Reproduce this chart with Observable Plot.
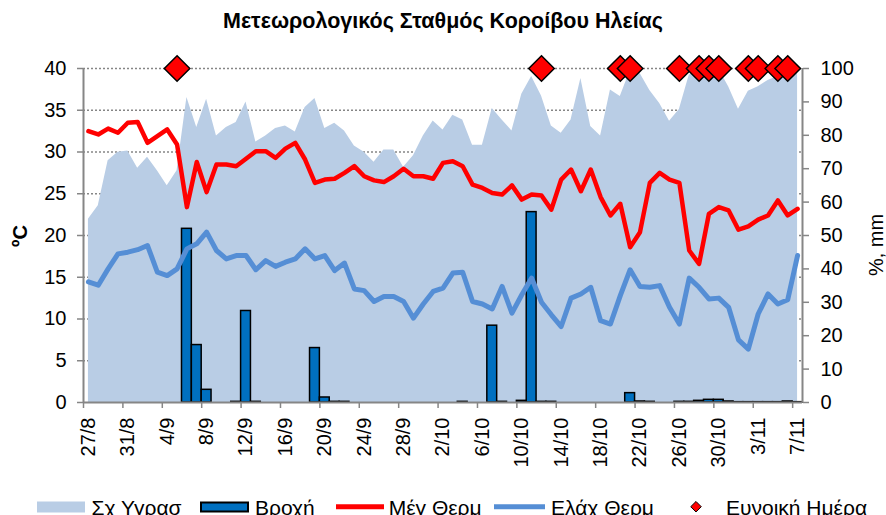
<!DOCTYPE html>
<html><head><meta charset="utf-8">
<script src="https://cdn.jsdelivr.net/npm/d3@7"></script>
<script src="https://cdn.jsdelivr.net/npm/@observablehq/plot@0.6"></script>
<style>
body{margin:0;background:#fff;font-family:"Liberation Sans",Arial,sans-serif;}
#wrap{position:relative;width:886px;height:515px;overflow:hidden;background:#fff;}
#title{position:absolute;left:0;top:9px;width:886px;text-align:center;font-weight:bold;font-size:21.5px;}
#chart{position:absolute;left:0;top:40px;}
.ytitle{position:absolute;font-size:20px;white-space:nowrap;transform:translate(-50%,-50%) rotate(-90deg);}
#legend{position:absolute;left:0;top:490px;}
</style></head><body>
<div id="wrap">
<div id="title">Μετεωρολογικός Σταθμός Κοροίβου Ηλείας</div>
<div id="chart"></div>
<div class="ytitle" style="left:20px;top:236px;font-weight:bold">ºC</div>
<div class="ytitle" style="left:876px;top:245px;">%, mm</div>
<svg id="legend" width="886" height="25"></svg>
</div>
<script>
// Days 27/8 .. 7/11 (73 daily categories)
const firstDay = [2013, 7, 27];
const lastDay = [2013, 10, 7];
const tickLabels = ["27/8","31/8","4/9","8/9","12/9","16/9","20/9","24/9","28/9","2/10","6/10","10/10","14/10","18/10","22/10","26/10","30/10","3/11","7/11"];
const leftTicks = [0,5,10,15,20,25,30,35,40];
const rightTicks = [0,10,20,30,40,50,60,70,80,90,100];

// Σχ Υγρασ (%), right axis
const humidity = [54.9,58.9,72.4,74.9,75.3,70.1,73.4,69.4,64.9,69.4,
  91.3,82.3,90.8,79.8,82.3,83.8,90.0,78.0,79.8,82.0,
  82.8,81.0,88.3,91.0,82.0,83.6,81.3,76.8,74.9,71.9,
  75.6,75.6,70.4,73.9,79.8,84.3,81.6,86.0,84.6,77.0,
  77.0,88.0,84.6,81.3,92.3,97.6,91.8,82.8,80.6,84.6,
  97.0,82.6,79.8,93.6,91.6,99.3,98.6,93.4,89.5,84.2,
  87.7,98.0,99.8,99.8,99.8,94.5,87.8,93.2,94.5,96.4,
  97.6,98.4,99.3];
// Βροχή (mm), right axis
const rain = [0,0,0,0,0,0,0,0,0,0,
  52.0,17.2,3.8,0,0,0.2,27.4,0.2,0,0,
  0,0,0,16.3,1.5,0.2,0.2,0,0,0,
  0,0,0,0,0,0,0,0,0.2,0,
  0,23.0,0.2,0,0.5,57.0,0.2,0.2,0,0,
  0,0,0,0,0,2.8,0.3,0.2,0,0,
  0.2,0.2,0.5,0.8,0.8,0.3,0.1,0.1,0.1,0.1,
  0.1,0.3,0.1];
// Μέγ Θερμ (°C)
const maxTemp = [32.5,32.1,32.8,32.3,33.5,33.6,31.1,31.9,32.7,30.9,
  23.4,28.8,25.2,28.5,28.5,28.3,29.2,30.1,30.1,29.3,
  30.4,31.1,29.1,26.3,26.7,26.8,27.5,28.3,27.1,26.6,
  26.4,27.1,28.0,27.1,27.1,26.8,28.7,28.9,28.3,26.1,
  25.7,25.1,24.9,26.0,24.3,24.9,24.8,23.1,26.7,27.9,
  25.3,27.9,24.6,22.4,23.8,18.6,20.4,26.3,27.5,26.7,
  26.3,18.2,16.6,22.6,23.4,23.0,20.7,21.1,21.9,22.4,
  24.2,22.4,23.2];
// Ελάχ Θερμ (°C)
const minTemp = [14.45,14.05,16.0,17.8,18.0,18.3,18.8,15.6,15.2,16.0,
  18.4,19.0,20.4,18.2,17.2,17.6,17.6,15.9,17.0,16.3,
  16.8,17.2,18.4,17.2,17.6,15.8,16.7,13.6,13.4,12.1,
  12.7,12.7,12.1,10.1,11.8,13.3,13.7,15.5,15.6,12.1,
  11.8,11.2,13.9,10.7,12.9,14.9,12.0,10.5,9.1,12.5,
  13.0,13.8,9.8,9.4,12.8,15.9,13.9,13.8,14.0,11.4,
  9.4,14.9,13.8,12.4,12.5,11.4,7.5,6.4,10.6,13.0,
  11.8,12.3,17.6];
// Ευνοική Ημέρα (drawn at 100 on the right axis)
const favourableDays = ["5/9","12/10","20/10","21/10","26/10","28/10","29/10","30/10","2/11","3/11","5/11","6/11"];
const favourableLevel = 100;

const K = 40 / 100; // right axis (0-100) onto left axis (0-40)
const days = d3.utcDay.range(new Date(Date.UTC(...firstDay)), d3.utcDay.offset(new Date(Date.UTC(...lastDay)), 1))
  .map(d => `${d.getUTCDate()}/${d.getUTCMonth() + 1}`);
const rows = days.map((day, i) => ({i, day, hum: humidity[i], rain: rain[i], tmax: maxTemp[i], tmin: minTemp[i]}));
const tickIdx = tickLabels.map(l => days.indexOf(l));
const favIdx = favourableDays.map(l => days.indexOf(l));
const n = days.length;

const grey = "#868686";
const chart = Plot.plot({
  width: 886, height: 450,
  marginLeft: 83, marginRight: 84, marginTop: 28, marginBottom: 88,
  x: {type: "linear", domain: [-0.5, n - 0.5], label: null},
  y: {domain: [0, 40], label: null},
  style: {fontFamily: "Liberation Sans, Arial, sans-serif", fontSize: "20px", color: "#000", background: "#fff"},
  marks: [
    Plot.ruleY(leftTicks.filter(v => v > 0), {stroke: grey, strokeWidth: 1.5, strokeDasharray: "2,2"}),
    Plot.areaY(rows, {x: "i", y: d => d.hum * K, fill: "#b9cde5"}),
    Plot.rectY(rows.filter(d => d.rain > 0), {x1: d => d.i - 0.5, x2: d => d.i + 0.5, y: d => d.rain * K, fill: "#0070c0", stroke: "#000", strokeWidth: 1.5}),
    Plot.lineY(rows, {x: "i", y: "tmax", stroke: "#ff0000", strokeWidth: 4.5, strokeLinejoin: "round"}),
    Plot.lineY(rows, {x: "i", y: "tmin", stroke: "#558ed5", strokeWidth: 5, strokeLinejoin: "round"}),
    Plot.ruleX([-0.5, n - 0.5], {stroke: grey, strokeWidth: 2}),
    Plot.ruleY([0], {stroke: grey, strokeWidth: 2}),
    Plot.axisX({ticks: tickIdx.map(i => i - 0.5), tickFormat: () => "", tickSize: 6, stroke: grey, strokeWidth: 1.5, label: null}),
    Plot.axisX({ticks: tickIdx, tickFormat: i => days[i], tickRotate: -90, tickSize: 0, tickPadding: 15, label: null}),
    Plot.axisY({anchor: "left", ticks: leftTicks, tickSize: 6, tickPadding: 11, stroke: grey, strokeWidth: 1.5, label: null}),
    Plot.axisY({anchor: "right", ticks: rightTicks.map(v => v * K), tickFormat: v => Math.round(v / K), tickSize: 6, tickPadding: 12, stroke: grey, strokeWidth: 1.5, label: null}),
    Plot.dot(favIdx, {x: d => d, y: () => favourableLevel * K, symbol: "diamond2", r: 11.5, fill: "#ff0000", stroke: "#000", strokeWidth: 1.5})
  ]
});
document.getElementById("chart").appendChild(chart);

// Legend
const lg = d3.select("#legend");
const lf = 21, by = 24.5;
lg.append("rect").attr("x", 37).attr("y", 11.5).attr("width", 48).attr("height", 11).attr("fill", "#b9cde5");
lg.append("rect").attr("x", 201).attr("y", 12.5).attr("width", 47).attr("height", 9).attr("fill", "#0070c0").attr("stroke", "#000").attr("stroke-width", 2);
lg.append("line").attr("x1", 336).attr("x2", 384).attr("y1", 16.7).attr("y2", 16.7).attr("stroke", "#ff0000").attr("stroke-width", 5);
lg.append("line").attr("x1", 494).attr("x2", 545).attr("y1", 16.7).attr("y2", 16.7).attr("stroke", "#558ed5").attr("stroke-width", 5);
lg.append("path").attr("d", d3.symbol(d3.symbolDiamond2, 70)()).attr("transform", "translate(696,16.7)").attr("fill", "#ff0000").attr("stroke", "#000").attr("stroke-width", 1);
[["Σχ Υγρασ", 91.5], ["Βροχή", 255], ["Μέγ Θερμ", 388.7], ["Ελάχ Θερμ", 551], ["Ευνοική Ημέρα", 726]].forEach(([t, x]) => {
  lg.append("text").attr("x", x).attr("y", by).attr("font-size", lf).attr("font-family", "Liberation Sans, Arial, sans-serif").text(t);
});
</script>
</body></html>
